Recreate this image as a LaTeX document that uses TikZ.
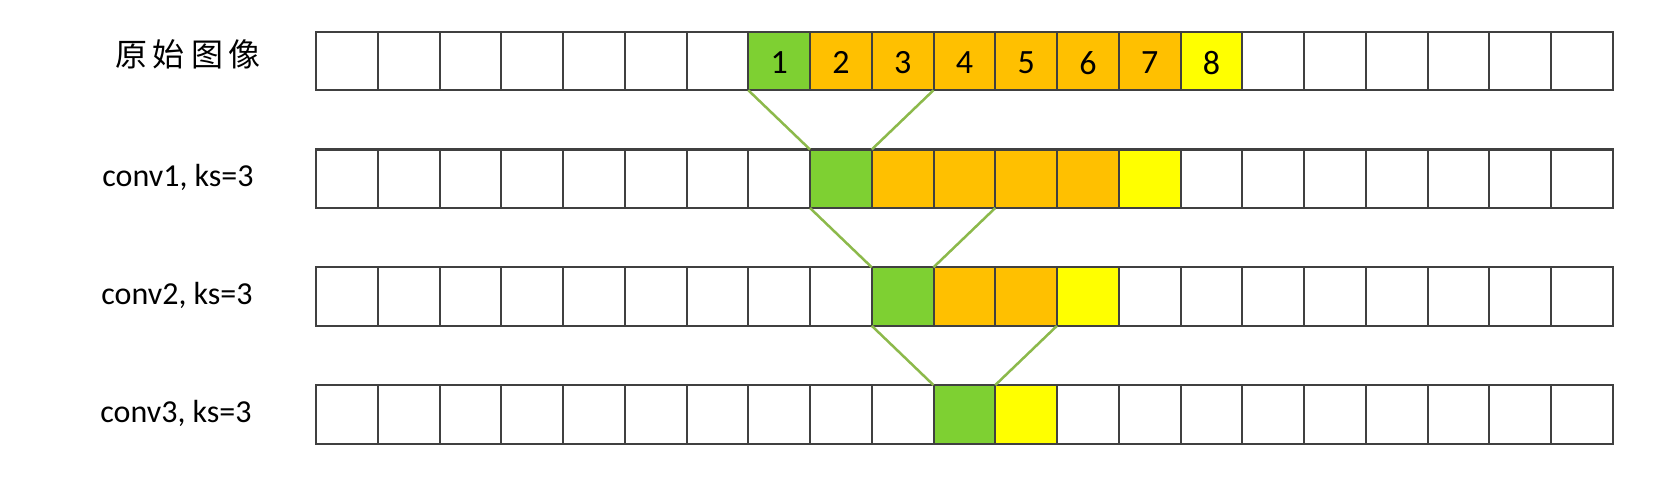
\documentclass[tikz,border=0pt]{standalone}
\usepackage{fontspec}
\setmainfont{Carlito}
\newfontfamily\cjk{Noto Sans CJK SC}
\definecolor{cgreen}{RGB}{126,208,50}
\definecolor{corange}{RGB}{255,192,0}
\definecolor{cyellow}{RGB}{255,255,0}
\definecolor{cline}{RGB}{140,185,75}
\definecolor{cborder}{RGB}{64,64,64}
\begin{document}
\begin{tikzpicture}[x=0.5pt,y=-0.5pt,
  cell/.style={draw=cborder,line width=1pt,minimum width=30.875pt,minimum height=29.25pt,
    inner sep=0pt,outer sep=0pt,anchor=north west},
  num/.style={font=\fontsize{17}{17}\selectfont,inner sep=0pt,yshift=-1pt},
  lbl/.style={font=\fontsize{16}{16}\selectfont,inner sep=0pt},
  conn/.style={draw=cline,line width=1.25pt}]
\useasboundingbox (0,0) rectangle (1654,492);
\foreach \r in {1,...,4}{
  \foreach \i in {0,...,20}{
    \pgfmathtruncatemacro\g{6+\r}
    \pgfmathtruncatemacro\yy{15-\r}
    \ifnum\i=\g \def\fc{cgreen}\else
      \ifnum\i=\yy \def\fc{cyellow}\else
        \ifnum\i>\g
          \ifnum\i<\yy \def\fc{corange}\else \def\fc{white}\fi
        \else \def\fc{white}\fi
      \fi
    \fi
    \node[cell,fill=\fc] (c\r-\i) at ({316+61.75*\i},{31.7+117.8*(\r-1)}) {};
  }
}
\foreach \n [count=\k from 7] in {1,...,8}
  \node[num] (n\n) at (c1-\k) {\n};
\node[lbl] (l1) at (188,54) {\cjk 原\hspace{3pt}始\hspace{3pt}图\hspace{3pt}像};
\node[lbl] (l2) at (178,177) {conv1, ks=3};
\node[lbl] (l3) at (177,295) {conv2, ks=3};
\node[lbl] (l4) at (176,413) {conv3, ks=3};
\draw[conn] (c1-7.south west) -- (c2-8.north west);
\draw[conn] (c1-9.south east) -- (c2-8.north east);
\draw[conn] (c2-8.south west) -- (c3-9.north west);
\draw[conn] (c2-10.south east) -- (c3-9.north east);
\draw[conn] (c3-9.south west) -- (c4-10.north west);
\draw[conn] (c3-11.south east) -- (c4-10.north east);
\end{tikzpicture}
\end{document}
